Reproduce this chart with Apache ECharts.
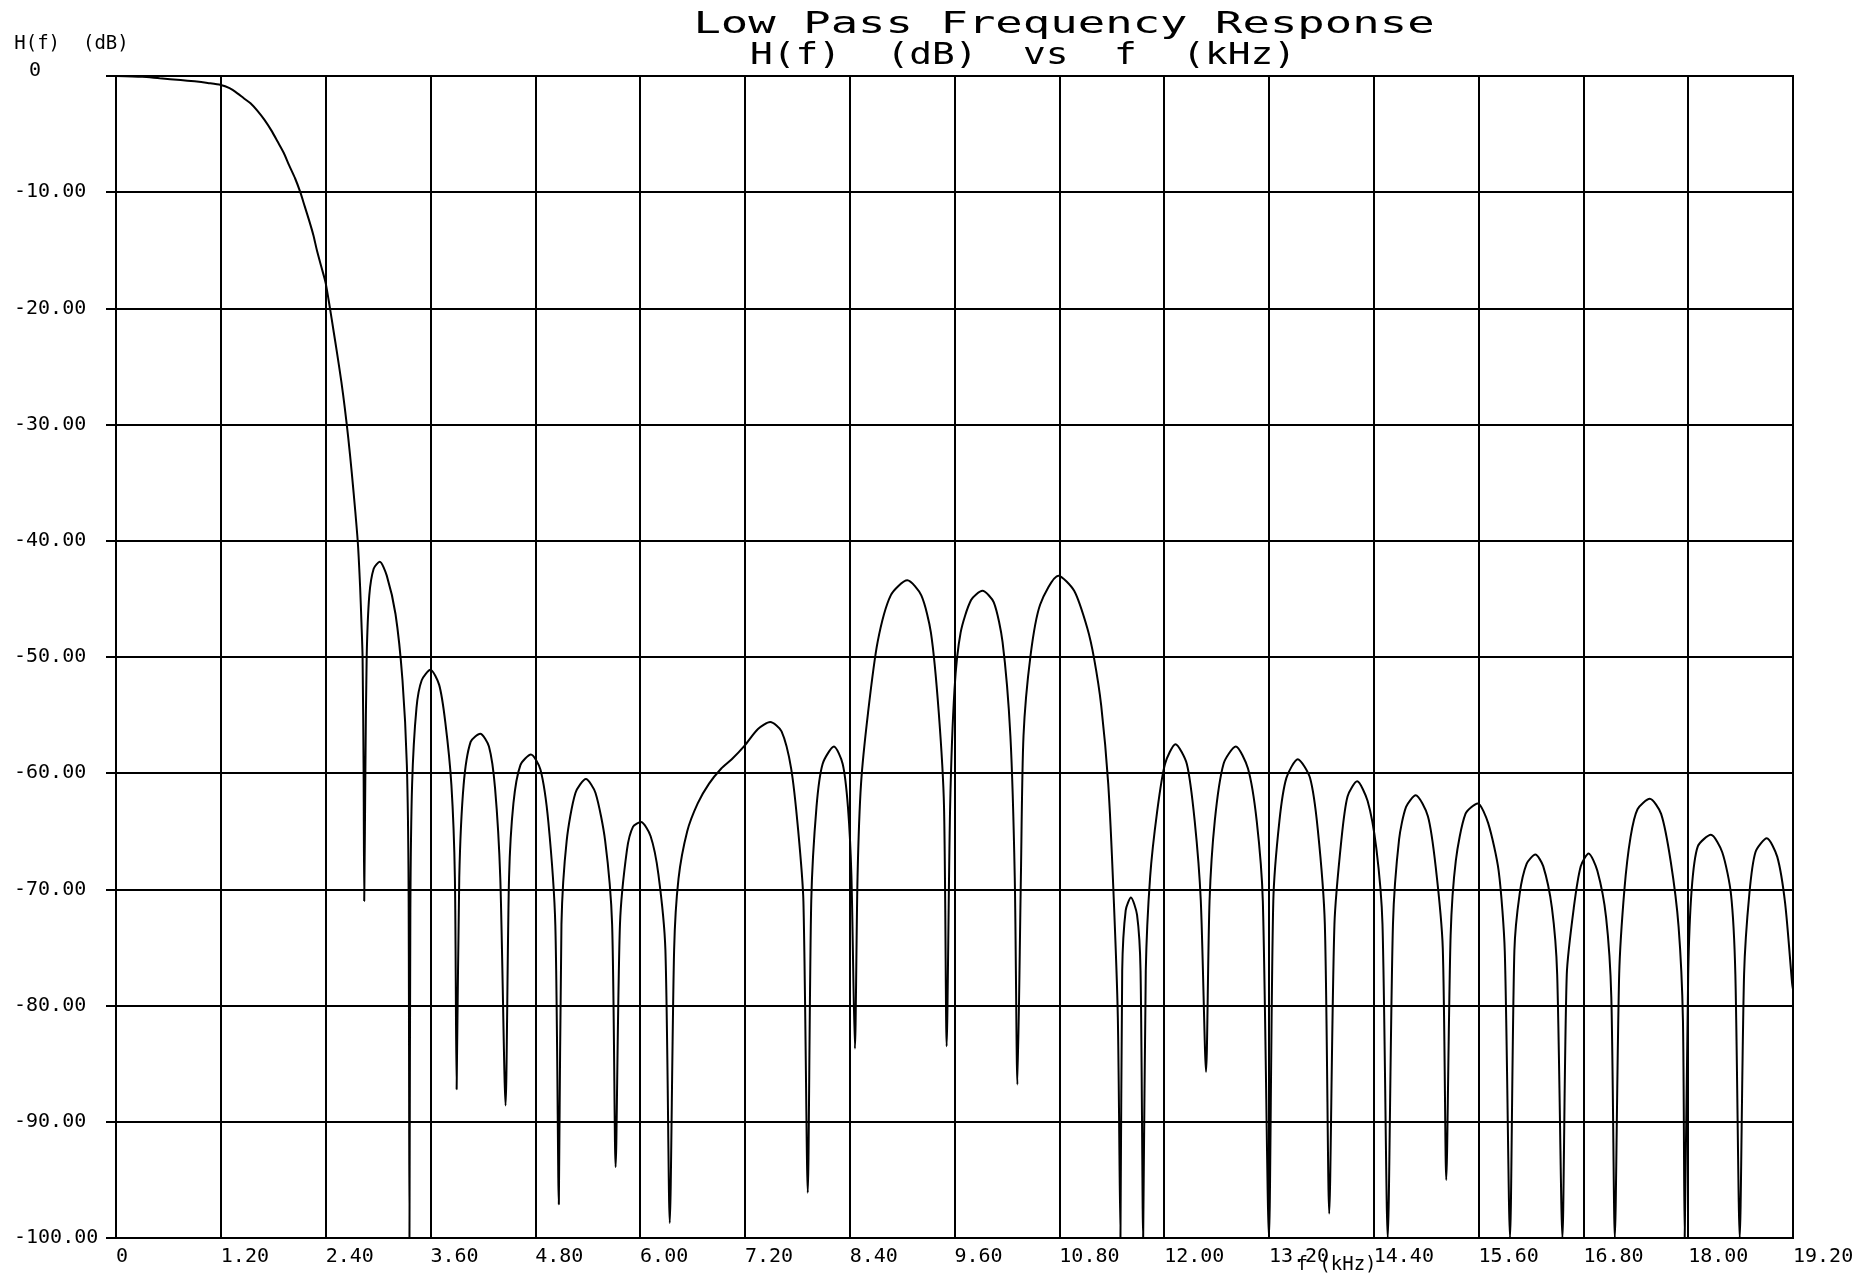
<!DOCTYPE html>
<html>
<head>
<meta charset="utf-8">
<title>Low Pass Frequency Response</title>
<script src="https://cdn.jsdelivr.net/npm/echarts@6/dist/echarts.min.js"></script>
<style>
html, body { margin: 0; padding: 0; background: #ffffff; }
#chart { width: 1862px; height: 1276px; }
</style>
</head>
<body>
<div id="chart"></div>
<script>
// 频率 (kHz)
var freqKHz = [
	0, 0.3, 0.5, 0.74, 0.9, 1.05, 1.2, 1.3, 1.39, 1.46, 1.54, 1.62, 1.7, 1.78, 1.85, 1.92, 1.98, 2.05, 2.11, 2.16, 2.21, 2.26, 2.3, 2.35, 2.4, 2.45, 2.49, 2.53, 2.58, 2.62, 2.66, 2.7, 2.74, 2.77, 2.795, 2.81, 2.823, 2.835, 2.842,
	2.855, 2.87, 2.9, 2.95, 3.02, 3.1, 3.2, 3.28, 3.33, 3.35, 3.36,
	3.37, 3.39, 3.44, 3.5, 3.6, 3.7, 3.77, 3.84, 3.88, 3.9,
	3.93, 3.98, 4.06, 4.17, 4.27, 4.34, 4.4, 4.46,
	4.5, 4.55, 4.63, 4.75, 4.86, 4.95, 5.03, 5.07,
	5.1, 5.16, 5.26, 5.38, 5.49, 5.6, 5.68, 5.72,
	5.77, 5.85, 5.92, 6.01, 6.12, 6.21, 6.29, 6.34,
	6.39, 6.44, 6.54, 6.66, 6.79, 6.93, 7.05, 7.2, 7.35, 7.49, 7.62, 7.73, 7.81, 7.87, 7.92,
	7.96, 8.02, 8.09, 8.22, 8.32, 8.38, 8.42, 8.46,
	8.49, 8.53, 8.61, 8.72, 8.87, 9.06, 9.22, 9.33, 9.42, 9.48, 9.51,
	9.55, 9.6, 9.67, 9.79, 9.92, 10.05, 10.15, 10.24, 10.29, 10.32,
	10.36, 10.39, 10.47, 10.58, 10.79, 10.97, 11.12, 11.2, 11.28, 11.36, 11.42, 11.47, 11.5,
	11.52, 11.56, 11.62, 11.69, 11.73, 11.76,
	11.79, 11.84, 11.92, 12.01, 12.13, 12.26, 12.35, 12.42, 12.48,
	12.52, 12.58, 12.68, 12.82, 12.96, 13.06, 13.13, 13.2,
	13.25, 13.32, 13.4, 13.53, 13.67, 13.76, 13.84, 13.89,
	13.95, 14.03, 14.1, 14.21, 14.33, 14.43, 14.5, 14.56,
	14.62, 14.69, 14.77, 14.88, 15.02, 15.11, 15.19, 15.23,
	15.28, 15.34, 15.45, 15.59, 15.71, 15.83, 15.9, 15.96,
	16.01, 16.07, 16.15, 16.25, 16.34, 16.44, 16.5, 16.56,
	16.61, 16.69, 16.77, 16.86, 16.96, 17.06, 17.12, 17.16,
	17.21, 17.27, 17.34, 17.42, 17.56, 17.69, 17.8, 17.89, 17.94, 17.96,
	18.0, 18.04, 18.11, 18.26, 18.39, 18.49, 18.54, 18.59,
	18.64, 18.7, 18.77, 18.9, 19.02, 19.11, 19.19, 19.2
];
// H(f) (dB)
var gainDB = [
	0, -0.07, -0.2, -0.34, -0.46, -0.6, -0.77, -1.05, -1.49, -1.9, -2.35, -3.0, -3.78, -4.7, -5.64, -6.6, -7.65, -8.8, -10, -11.2, -12.4, -13.7, -15, -16.4, -17.8, -20, -21.9, -23.8, -26.3, -28.6, -31.2, -34.2, -37.5, -40.3, -44, -47, -50, -60, -71,
	-60, -50, -44.7, -42.4, -41.8, -43, -46.3, -52, -59.3, -70, -100,
	-72, -61, -54.4, -52, -51.1, -52.4, -55.6, -61, -69, -87.2,
	-69, -61, -57.3, -56.6, -57.7, -61.3, -69.1, -88.6,
	-69, -62.6, -59.3, -58.4, -59.7, -64.2, -73.1, -97.1,
	-73, -65.8, -61.7, -60.5, -61.7, -65.8, -73, -93.9,
	-73, -66.6, -64.6, -64.2, -65.4, -68.7, -75.2, -98.7,
	-75.2, -69.1, -65, -62.6, -60.9, -59.6, -58.8, -57.6, -56.2, -55.6, -56.4, -59.6, -64.9, -71, -96.1,
	-71, -62.9, -59.2, -57.7, -59.2, -62.9, -68.9, -83.7,
	-68.9, -60.9, -54.8, -48.7, -44.7, -43.4, -44.7, -47.9, -54.8, -62.9, -83.5,
	-62.9, -52.8, -47.9, -45.1, -44.3, -45.3, -48.7, -56.8, -69, -86.8,
	-69, -56.8, -49.9, -45.5, -43, -44.3, -47.5, -50.2, -54.2, -60.9, -70.2, -81, -100,
	-77, -71.8, -70.7, -72.2, -77, -100,
	-77, -68.9, -63.3, -59.2, -57.5, -59.2, -64.1, -71, -85.7,
	-71, -64.1, -59.2, -57.7, -59.6, -64.1, -71, -100,
	-71, -64.1, -60.4, -58.8, -60.4, -64.9, -73, -97.9,
	-73, -65.7, -62, -60.7, -62.4, -66.5, -73, -100,
	-73, -65.7, -62.9, -61.9, -63.7, -68.1, -75, -95,
	-74, -67.5, -63.5, -62.6, -64.3, -68.4, -75.3, -100,
	-75.3, -70.4, -67.8, -67, -68, -71.6, -77.3, -100,
	-77.3, -71.6, -68, -66.9, -68.4, -72.4, -79.3, -100,
	-77.3, -70, -65.5, -63.1, -62.2, -63.5, -67.6, -73.2, -81.3, -100,
	-77.3, -70, -66.3, -65.3, -66.8, -70.4, -77.3, -100,
	-77.3, -70.4, -66.8, -65.6, -67.2, -71.2, -78.1, -78.6
];
// 坐标轴范围 [min, max, interval]
var xRange = [0, 19.2, 1.2];
var yRange = [-100, 0, 10];

var monoFont = '"DejaVu Sans Mono", "Liberation Mono", monospace';

var myChart = echarts.init(document.getElementById('chart'), null, { renderer: 'canvas' });

var curve = freqKHz.map(function (f, i) {
	return [f, gainDB[i]];
});

var option = {
	backgroundColor: '#ffffff',
	animation: false,
	grid: {
		left: 116,
		right: 69,
		top: 76,
		bottom: 38,
		outerBoundsMode: 'none',
		containLabel: false,
		show: true,
		borderColor: '#000000',
		borderWidth: 2
	},
	graphic: [{
		type: 'text',
		x: 1064,
		y: 10,
		scaleX: 1.52,
		style: {
			text: 'Low Pass Frequency Response',
			fontFamily: monoFont,
			fontSize: 30,
			fill: '#000000',
			align: 'center',
			verticalAlign: 'top'
		}
	}, {
		type: 'text',
		x: 1023,
		y: 41,
		scaleX: 1.26,
		style: {
			text: 'H(f)  (dB)  vs  f  (kHz)',
			fontFamily: monoFont,
			fontSize: 30,
			fill: '#000000',
			align: 'center',
			verticalAlign: 'top'
		}
	}],
	xAxis: {
		type: 'value',
		min: xRange[0],
		max: xRange[1],
		interval: xRange[2],
		name: 'f (kHz)',
		nameLocation: 'middle',
		nameGap: 18,
		nameMoveOverlap: false,
		nameTextStyle: {
			color: '#000000',
			fontFamily: monoFont,
			fontSize: 19,
			padding: [0, 0, 0, 764]
		},
		axisLine: { lineStyle: { color: '#000000', width: 2 } },
		axisTick: { show: true, length: 8, lineStyle: { color: '#000000', width: 2 } },
		splitLine: { show: true, lineStyle: { color: '#000000', width: 2 } },
		axisLabel: {
			color: '#000000',
			fontFamily: monoFont,
			fontSize: 20,
			align: 'left',
			margin: 9,
			showMaxLabel: true,
			formatter: function (v) {
				return v === 0 ? '0' : v.toFixed(2);
			}
		}
	},
	yAxis: {
		type: 'value',
		min: yRange[0],
		max: yRange[1],
		interval: yRange[2],
		name: 'H(f)  (dB)',
		nameLocation: 'end',
		nameGap: 22,
		nameMoveOverlap: false,
		nameTextStyle: {
			color: '#000000',
			fontFamily: monoFont,
			fontSize: 19,
			align: 'center',
			padding: [0, 89, 0, 0]
		},
		axisLine: { show: true, lineStyle: { color: '#000000', width: 2 } },
		axisTick: { show: true, length: 10, lineStyle: { color: '#000000', width: 2 } },
		splitLine: { show: true, lineStyle: { color: '#000000', width: 2 } },
		axisLabel: {
			color: '#000000',
			fontFamily: monoFont,
			fontSize: 20,
			align: 'left',
			margin: 102,
			formatter: function (v) {
				return v === 0 ? '{z|0}' : v.toFixed(2);
			},
			rich: {
				z: {
					color: '#000000',
					fontFamily: monoFont,
					fontSize: 20,
					padding: [0, 0, 10, 15]
				}
			}
		}
	},
	series: [{
		name: 'H(f)',
		type: 'line',
		data: curve,
		showSymbol: false,
		smooth: 0.25,
		clip: true,
		lineStyle: { color: '#000000', width: 2 }
	}]
};
myChart.setOption(option);
window.addEventListener('resize', function () {
	myChart.resize();
});
</script>
</body>
</html>
